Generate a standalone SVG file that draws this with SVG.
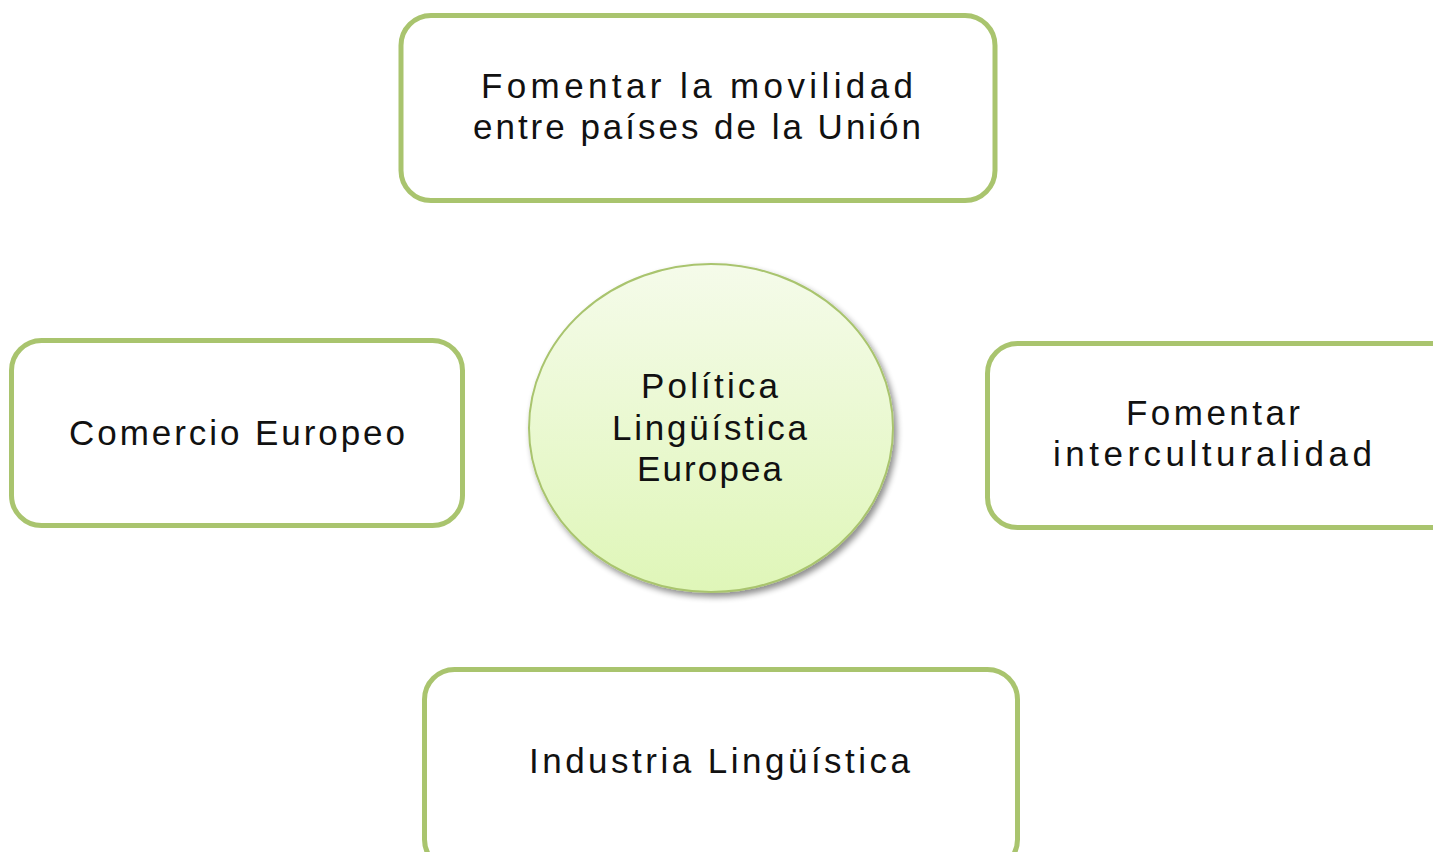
<svg xmlns="http://www.w3.org/2000/svg" width="1433" height="852" viewBox="0 0 1433 852">
<defs>
<linearGradient id="g" x1="0" y1="0" x2="0" y2="1">
<stop offset="0" stop-color="#f5fbea"/>
<stop offset="1" stop-color="#dff6b8"/>
</linearGradient>
<filter id="sh" x="-20%" y="-20%" width="140%" height="140%">
<feGaussianBlur in="SourceAlpha" stdDeviation="3"/>
<feOffset dx="3" dy="4" result="b"/>
<feComponentTransfer><feFuncA type="linear" slope="0.45"/></feComponentTransfer>
<feMerge><feMergeNode/><feMergeNode in="SourceGraphic"/></feMerge>
</filter>
</defs>
<style>
.box{fill:#ffffff;stroke:#a9c46e;stroke-width:5}
.t{font-family:"Liberation Sans",Arial,sans-serif;font-size:35px;fill:#111;text-anchor:start}
</style>
<rect width="1433" height="852" fill="#ffffff"/>
<g id="connectors"></g>
<g id="node-top">
<rect class="box" x="401" y="15.5" width="594" height="185" rx="30"/>
<text class="t" x="481" y="98" textLength="432" lengthAdjust="spacing">Fomentar la movilidad</text>
<text class="t" x="473" y="139" textLength="448" lengthAdjust="spacing">entre países de la Unión</text>
</g>
<g id="node-left">
<rect class="box" x="11.5" y="340.5" width="451" height="185" rx="30"/>
<text class="t" x="69" y="445" textLength="336" lengthAdjust="spacing">Comercio Europeo</text>
</g>
<g id="node-right">
<rect class="box" x="987.5" y="343.5" width="480" height="184" rx="30"/>
<text class="t" x="1126" y="425" textLength="174" lengthAdjust="spacing">Fomentar</text>
<text class="t" x="1053" y="466" textLength="319" lengthAdjust="spacing">interculturalidad</text>
</g>
<g id="node-bottom">
<rect class="box" x="424.5" y="669.5" width="593" height="200" rx="30"/>
<text class="t" x="529" y="773" textLength="381" lengthAdjust="spacing">Industria Lingüística</text>
</g>
<g id="node-center">
<ellipse cx="711" cy="428" rx="182" ry="164" fill="url(#g)" stroke="#a9c46e" stroke-width="2" filter="url(#sh)"/>
<text class="t" x="641" y="398" textLength="137" lengthAdjust="spacing">Política</text>
<text class="t" x="612" y="440" textLength="195" lengthAdjust="spacing">Lingüística</text>
<text class="t" x="637" y="481" textLength="145" lengthAdjust="spacing">Europea</text>
</g>
</svg>
